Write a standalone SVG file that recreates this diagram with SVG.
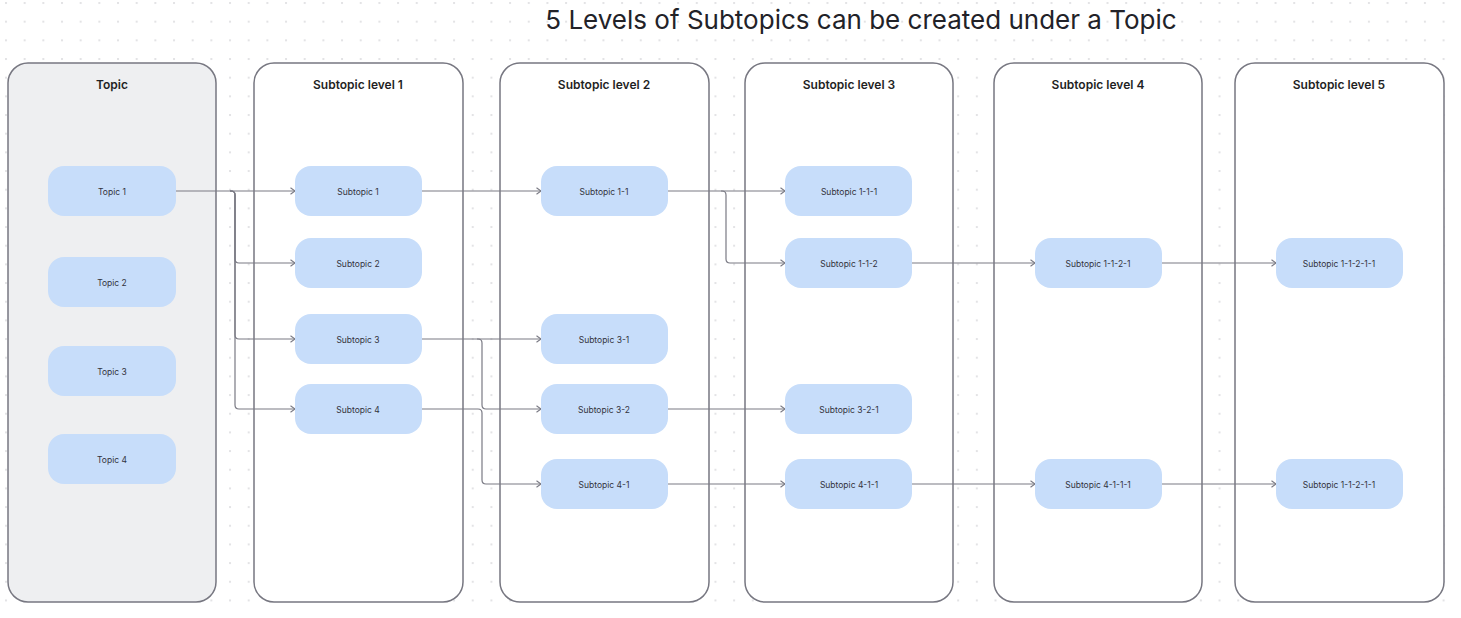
<svg xmlns="http://www.w3.org/2000/svg" width="1461" height="618" viewBox="0 0 1461 618">
<defs>
<pattern id="dots" patternUnits="userSpaceOnUse" x="5" y="2" width="18.67" height="18.67">
<rect x="0" y="0" width="2" height="2" fill="#e3e3e5"/>
</pattern>
<marker id="arr" viewBox="0 0 8 8" refX="7" refY="4" markerWidth="8" markerHeight="8" markerUnits="userSpaceOnUse" orient="auto">
<path d="M2.5,0.8 L7,4 L2.5,7.2" fill="none" stroke="#7a7a84" stroke-width="1.1"/>
</marker>
<style>
.lane{fill:#ffffff;stroke:#777781;stroke-width:1.5}
.lane.topic{fill:#eeeff1}
.lt{font-family:Inter,"Liberation Sans",sans-serif;font-size:12px;font-weight:600;fill:#1f1f24;text-anchor:middle}
.node rect{fill:#c7ddfa}
.node text{font-family:Inter,"Liberation Sans",sans-serif;font-size:8.5px;fill:#33333c;text-anchor:middle;dominant-baseline:central}
.c path{fill:none;stroke:#7a7a84;stroke-width:1.2;marker-end:url(#arr)}
.title{font-family:Inter,"Liberation Sans",sans-serif;font-size:26px;fill:#222228;text-anchor:middle}
</style>
</defs>
<rect width="1461" height="618" fill="#ffffff"/>
<rect width="1461" height="618" fill="url(#dots)"/>
<text class="title" x="861" y="29">5 Levels of Subtopics can be created under a Topic</text>

<g id="lane-topic"><rect class="lane topic" x="8" y="63" width="208" height="539" rx="20"/><text class="lt" x="112" y="89">Topic</text></g>
<g id="lane-l1"><rect class="lane" x="254" y="63" width="209" height="539" rx="20"/><text class="lt" x="358" y="89">Subtopic level 1</text></g>
<g id="lane-l2"><rect class="lane" x="500" y="63" width="209" height="539" rx="20"/><text class="lt" x="604" y="89">Subtopic level 2</text></g>
<g id="lane-l3"><rect class="lane" x="745" y="63" width="208" height="539" rx="20"/><text class="lt" x="849" y="89">Subtopic level 3</text></g>
<g id="lane-l4"><rect class="lane" x="994" y="63" width="208" height="539" rx="20"/><text class="lt" x="1098" y="89">Subtopic level 4</text></g>
<g id="lane-l5"><rect class="lane" x="1235" y="63" width="209" height="539" rx="20"/><text class="lt" x="1339" y="89">Subtopic level 5</text></g>

<g id="connectors" class="c">
<path d="M176,191 H295"/>
<path d="M230,191 H231 Q235,191 235,195 V259 Q235,263 239,263 H295"/>
<path d="M230,191 H231 Q235,191 235,195 V335 Q235,339 239,339 H295"/>
<path d="M230,191 H231 Q235,191 235,195 V405 Q235,409 239,409 H295"/>
<path d="M422,191 H541"/>
<path d="M422,339 H541"/>
<path d="M477,339 H478 Q482,339 482,343 V405 Q482,409 486,409 H541"/>
<path d="M422,409 H478 Q482,409 482,413 V480 Q482,484 486,484 H541"/>
<path d="M668,191 H785"/>
<path d="M721,191 H722 Q726,191 726,195 V259 Q726,263 730,263 H785"/>
<path d="M668,409 H785"/>
<path d="M668,484 H785"/>
<path d="M912,263 H1035"/>
<path d="M912,484 H1035"/>
<path d="M1162,263 H1276"/>
<path d="M1162,484 H1276"/>
</g>

<g id="topic-1" class="node"><rect x="48" y="166" width="128" height="50" rx="16"/><text x="112" y="192">Topic 1</text></g>
<g id="topic-2" class="node"><rect x="48" y="257" width="128" height="50" rx="16"/><text x="112" y="283">Topic 2</text></g>
<g id="topic-3" class="node"><rect x="48" y="346" width="128" height="50" rx="16"/><text x="112" y="372">Topic 3</text></g>
<g id="topic-4" class="node"><rect x="48" y="434" width="128" height="50" rx="16"/><text x="112" y="460">Topic 4</text></g>

<g id="sub-1" class="node"><rect x="295" y="166" width="127" height="50" rx="16"/><text x="358" y="192">Subtopic 1</text></g>
<g id="sub-2" class="node"><rect x="295" y="238" width="127" height="50" rx="16"/><text x="358" y="264">Subtopic 2</text></g>
<g id="sub-3" class="node"><rect x="295" y="314" width="127" height="50" rx="16"/><text x="358" y="340">Subtopic 3</text></g>
<g id="sub-4" class="node"><rect x="295" y="384" width="127" height="50" rx="16"/><text x="358" y="410">Subtopic 4</text></g>

<g id="sub-1-1" class="node"><rect x="541" y="166" width="127" height="50" rx="16"/><text x="604" y="192">Subtopic 1-1</text></g>
<g id="sub-3-1" class="node"><rect x="541" y="314" width="127" height="50" rx="16"/><text x="604" y="340">Subtopic 3-1</text></g>
<g id="sub-3-2" class="node"><rect x="541" y="384" width="127" height="50" rx="16"/><text x="604" y="410">Subtopic 3-2</text></g>
<g id="sub-4-1" class="node"><rect x="541" y="459" width="127" height="50" rx="16"/><text x="604" y="485">Subtopic 4-1</text></g>

<g id="sub-1-1-1" class="node"><rect x="785" y="166" width="127" height="50" rx="16"/><text x="849" y="192">Subtopic 1-1-1</text></g>
<g id="sub-1-1-2" class="node"><rect x="785" y="238" width="127" height="50" rx="16"/><text x="849" y="264">Subtopic 1-1-2</text></g>
<g id="sub-3-2-1" class="node"><rect x="785" y="384" width="127" height="50" rx="16"/><text x="849" y="410">Subtopic 3-2-1</text></g>
<g id="sub-4-1-1" class="node"><rect x="785" y="459" width="127" height="50" rx="16"/><text x="849" y="485">Subtopic 4-1-1</text></g>

<g id="sub-1-1-2-1" class="node"><rect x="1035" y="238" width="127" height="50" rx="16"/><text x="1098" y="264">Subtopic 1-1-2-1</text></g>
<g id="sub-4-1-1-1" class="node"><rect x="1035" y="459" width="127" height="50" rx="16"/><text x="1098" y="485">Subtopic 4-1-1-1</text></g>

<g id="sub-1-1-2-1-1-a" class="node"><rect x="1276" y="238" width="127" height="50" rx="16"/><text x="1339" y="264">Subtopic 1-1-2-1-1</text></g>
<g id="sub-1-1-2-1-1-b" class="node"><rect x="1276" y="459" width="127" height="50" rx="16"/><text x="1339" y="485">Subtopic 1-1-2-1-1</text></g>
</svg>
